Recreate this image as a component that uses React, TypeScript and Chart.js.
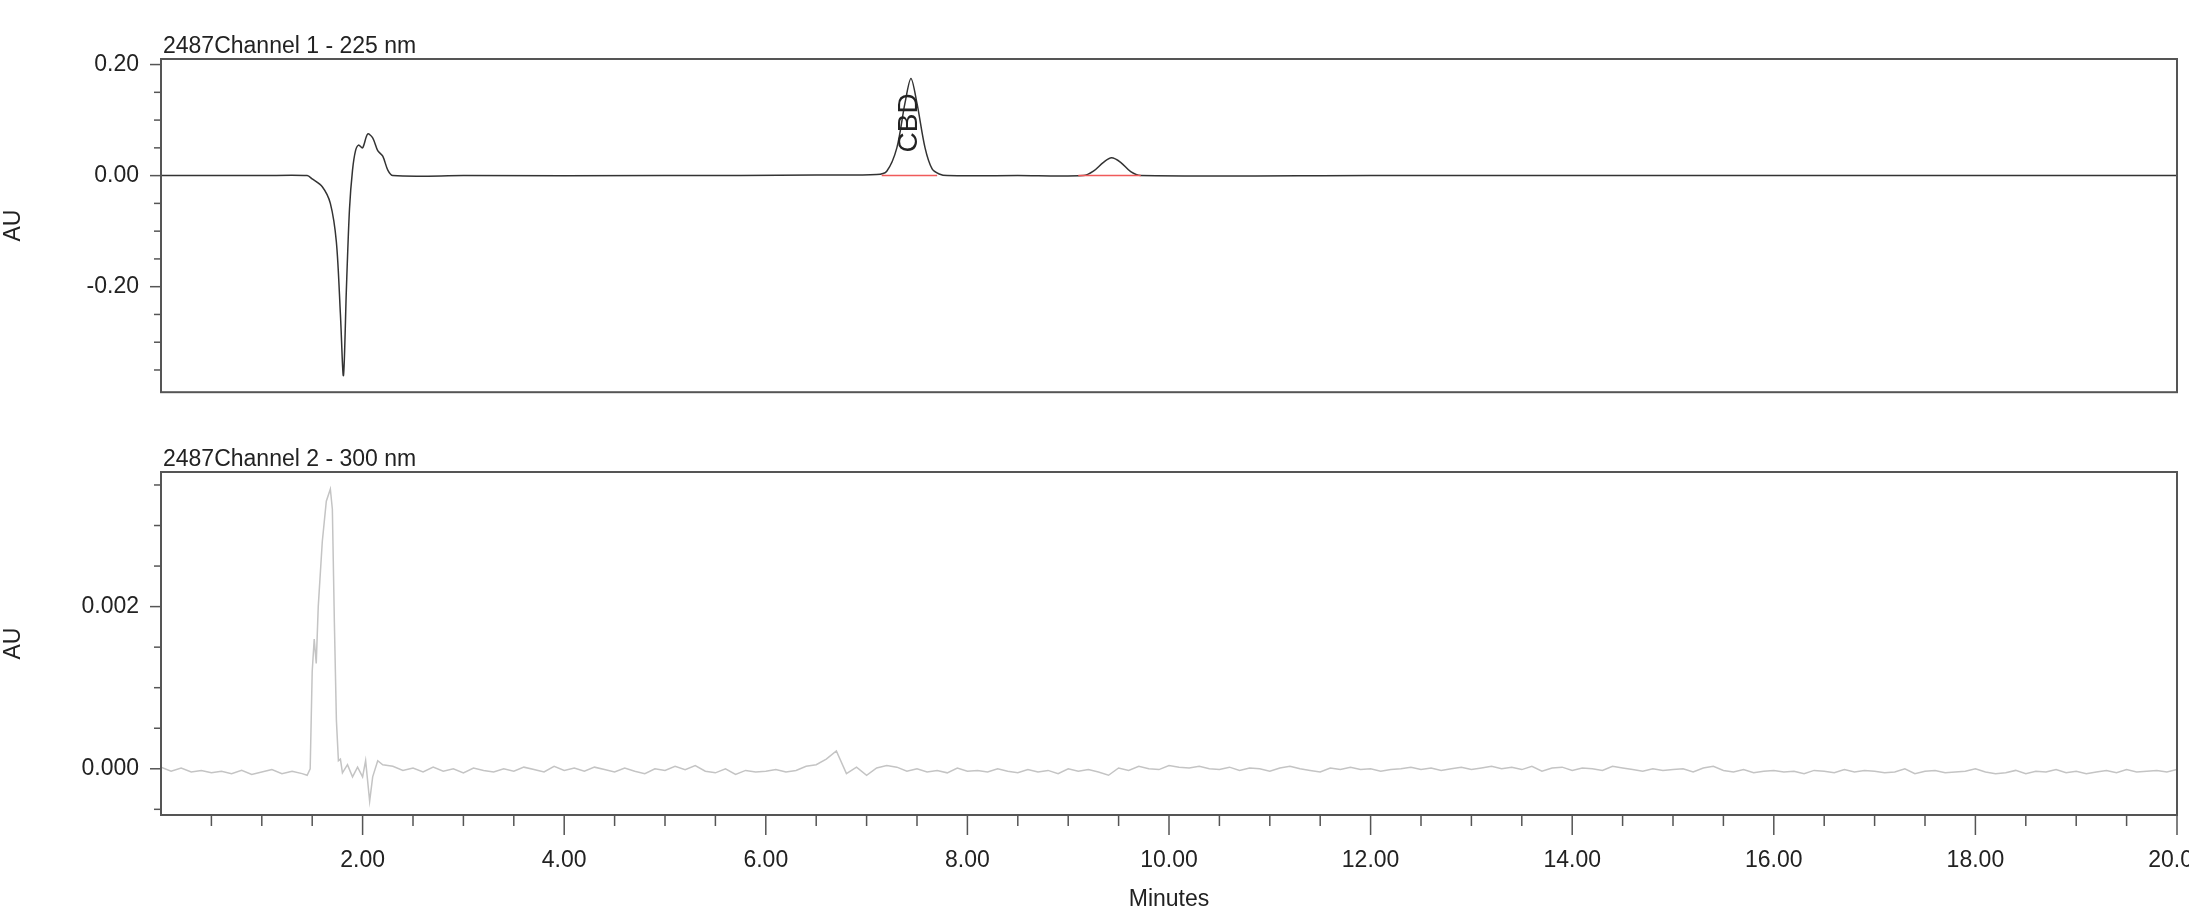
import React, { useEffect, useRef } from 'react';
import { Chart, registerables } from 'chart.js';

Chart.register(...registerables);

// Channel 1 (225 nm) trace
const ch1Times = [0, 0.5, 1.0, 1.45, 1.5, 1.6, 1.68, 1.74, 1.78, 1.81, 1.84, 1.87, 1.9, 1.93, 1.96, 2.0, 2.05, 2.1, 2.15, 2.2, 2.25, 2.3, 3.0, 5.0, 6.5, 7.1, 7.2, 7.3, 7.38, 7.44, 7.5, 7.58, 7.65, 7.72, 7.8, 8.5, 9.15, 9.25, 9.35, 9.43, 9.52, 9.62, 9.72, 12, 16, 20];
const ch1Values = [0, 0, 0, 0, -0.006, -0.02, -0.05, -0.12, -0.25, -0.36, -0.2, -0.06, 0.01, 0.045, 0.055, 0.05, 0.075, 0.068, 0.045, 0.035, 0.01, 0, 0, 0, 0.001, 0.002, 0.008, 0.05, 0.13, 0.175, 0.13, 0.05, 0.012, 0.003, 0, 0, 0, 0.008, 0.024, 0.032, 0.024, 0.007, 0, 0, 0, 0];
const ch1Baselines = [[7.15, 7.7], [9.1, 9.72]];
const peakName = 'CBD';
const peakTime = 7.42;

// Channel 2 (300 nm) trace, baseline noise in units of 1e-5 AU at 0.1 min steps
const ch2NoiseHeadE5 = [2, -3, 1, -4, -2, -5, -3, -6, -2, -7, -4, -1, -6, -3];
const ch2PeakTimes = [1.4, 1.45, 1.48, 1.5, 1.52, 1.54, 1.56, 1.6, 1.64, 1.68, 1.7, 1.72, 1.74, 1.76, 1.78, 1.8, 1.85, 1.9, 1.95, 2.0, 2.03, 2.07, 2.1, 2.15, 2.2];
const ch2PeakValues = [-0.00006, -0.00008, 0.0, 0.0012, 0.0016, 0.0013, 0.002, 0.0028, 0.0033, 0.00345, 0.0032, 0.0018, 0.0006, 0.0001, 0.00012, -0.00005, 0.00005, -0.0001, 0.00002, -0.0001, 0.0001, -0.0004, -0.0001, 0.0001, 0.00005];
const ch2NoiseTailE5 = [
  3, -2, 1, -4, 2, -3, 0, -5, 1, -2,
  -4, 0, -3, 2, -1, -4, 3, -2, 1, -3,
  2, -1, -4, 1, -3, -6, 0, -2, 3, -1,
  4, -3, -5, 0, -7, -2, -4, -3, -1, -4,
  -2, 3, 5, 12, 22, -6, 2, -8, 1, 4,
  2, -3, 0, -4, -2, -5, 1, -3, -2, -4,
  0, -3, -5, -1, -4, -2, -6, 0, -3, -1,
  -4, -8, 1, -2, 3, 0, -1, 4, 2, 1,
  3, 0, -1, 2, -2, 1, 0, -3, 1, 3,
  0, -2, -4, 1, -1, 2, -1, 0, -3, -1,
  0, 2, -1, 1, -2, 0, 2, -1, 1, 3,
  0, 2, -1, 3, -3, 1, 2, -2, 1, 0,
  -2, 3, 1, -1, -3, 0, -2, -1, 0, -4,
  1, 3, -2, -4, -1, -5, -3, -2, -4, -3,
  -6, -2, -3, -5, -1, -4, -2, -3, -5, -4,
  0, -6, -3, -2, -5, -4, -3, 0, -4, -6,
  -5, -2, -6, -3, -4, -1, -5, -3, -6, -4,
  -2, -5, -1, -4, -3, -2, -4, -1,
];

const xMajorTicks = [2, 4, 6, 8, 10, 12, 14, 16, 18, 20];
const ch1YTicks = [-0.2, 0, 0.2];
const ch2YTicks = [0, 0.002];

const FONT = '"Liberation Sans", Arial, sans-serif';
const TEXT = '#222';
const SIZE = 23;

function ch2Points() {
  const pts: { x: number; y: number }[] = [];
  ch2NoiseHeadE5.forEach((v, i) => pts.push({ x: i * 0.1, y: v * 1e-5 }));
  ch2PeakTimes.forEach((t, i) => pts.push({ x: t, y: ch2PeakValues[i] }));
  ch2NoiseTailE5.forEach((v, i) => pts.push({ x: 2.3 + i * 0.1, y: v * 1e-5 }));
  return pts;
}

function framePlugin(title: string, yMinorStep: number, drawX: boolean, label?: boolean) {
  return {
    id: 'frame',
    afterDraw(chart: any) {
      const { ctx, chartArea: a } = chart;
      const ys = chart.scales.y;
      const xs = chart.scales.x;
      ctx.save();
      ctx.strokeStyle = '#555';
      ctx.lineWidth = 2;
      ctx.strokeRect(a.left, a.top, a.right - a.left, a.bottom - a.top);
      ctx.lineWidth = 1.5;
      const start = Math.ceil(ys.min / yMinorStep);
      for (let k = start; k * yMinorStep <= ys.max; k++) {
        const v = k * yMinorStep;
        const py = ys.getPixelForValue(v);
        const major = ch1YTicks.concat(ch2YTicks).some(t => Math.abs(t - v) < yMinorStep / 10);
        ctx.beginPath();
        ctx.moveTo(a.left, py);
        ctx.lineTo(a.left - (major ? 11 : 7), py);
        ctx.stroke();
      }
      if (drawX) {
        for (let k = 1; k <= 40; k++) {
          const v = k * 0.5;
          const px = xs.getPixelForValue(v);
          const major = k % 4 === 0;
          ctx.beginPath();
          ctx.moveTo(px, a.bottom);
          ctx.lineTo(px, a.bottom + (major ? 20 : 11));
          ctx.stroke();
        }
      }
      ctx.fillStyle = TEXT;
      ctx.font = `${SIZE}px ${FONT}`;
      ctx.textBaseline = 'bottom';
      ctx.textAlign = 'left';
      ctx.fillText(title, a.left + 2, a.top - 1);
      if (label) {
        ctx.translate(xs.getPixelForValue(peakTime), ys.getPixelForValue(0.095));
        ctx.rotate(-Math.PI / 2);
        ctx.font = `28px ${FONT}`;
        ctx.textAlign = 'center';
        ctx.textBaseline = 'middle';
        ctx.fillText(peakName, 0, 0);
      }
      ctx.restore();
    },
  };
}

function yScale(min: number, max: number, ticks: number[], digits: number) {
  return {
    type: 'linear' as const,
    min,
    max,
    afterBuildTicks: (s: any) => { s.ticks = ticks.map(v => ({ value: v })); },
    afterFit: (s: any) => { s.width = 161; },
    grid: { display: false },
    border: { display: false },
    ticks: { color: TEXT, font: { family: FONT, size: SIZE }, padding: 14, callback: (v: any) => Number(v).toFixed(digits) },
    title: { display: true, text: 'AU', color: TEXT, font: { family: FONT, size: SIZE }, padding: { top: 0, bottom: 14 } },
  };
}

export default function App() {
  const topRef = useRef<HTMLCanvasElement>(null);
  const botRef = useRef<HTMLCanvasElement>(null);

  useEffect(() => {
    document.body.style.margin = '0';
    if (!topRef.current || !botRef.current) return;

    const top = new Chart(topRef.current, {
      type: 'line',
      data: {
        datasets: [
          ...ch1Baselines.map(b => ({
            data: b.map(x => ({ x, y: 0 })),
            borderColor: '#f05a5a',
            borderWidth: 1.5,
            pointRadius: 0,
          })),
          {
            data: ch1Times.map((x, i) => ({ x, y: ch1Values[i] })),
            borderColor: '#333',
            borderWidth: 1.5,
            pointRadius: 0,
            tension: 0.3,
          },
        ],
      },
      options: {
        animation: false,
        responsive: false,
        layout: { padding: { top: 59, right: 12, bottom: 14, left: 0 } },
        plugins: { legend: { display: false }, tooltip: { enabled: false } },
        scales: {
          x: { type: 'linear', min: 0, max: 20, display: false },
          y: yScale(-0.39, 0.21, ch1YTicks, 2),
        },
      },
      plugins: [framePlugin('2487Channel 1 - 225 nm', 0.05, false, true)],
    });

    const bot = new Chart(botRef.current, {
      type: 'line',
      data: {
        datasets: [
          {
            data: ch2Points(),
            borderColor: '#c4c4c4',
            borderWidth: 1.5,
            pointRadius: 0,
          },
        ],
      },
      options: {
        animation: false,
        responsive: false,
        layout: { padding: { top: 42, right: 12, bottom: 0, left: 0 } },
        plugins: { legend: { display: false }, tooltip: { enabled: false } },
        scales: {
          x: {
            type: 'linear',
            min: 0,
            max: 20,
            afterBuildTicks: (s: any) => { s.ticks = xMajorTicks.map(v => ({ value: v })); },
            afterFit: (s: any) => { s.height = 98; s.paddingRight = 0; },
            grid: { display: false },
            border: { display: false },
            ticks: { color: TEXT, font: { family: FONT, size: SIZE }, padding: 24, maxRotation: 0, callback: (v: any) => Number(v).toFixed(2) },
            title: { display: true, text: 'Minutes', color: TEXT, font: { family: FONT, size: SIZE }, padding: { top: 4, bottom: 0 } },
          },
          y: yScale(-0.00057, 0.00366, ch2YTicks, 3),
        },
      },
      plugins: [framePlugin('2487Channel 2 - 300 nm', 0.0005, true)],
    });

    return () => {
      top.destroy();
      bot.destroy();
    };
  }, []);

  return (
    <div style={{ position: 'relative', width: 2189, height: 913, background: '#fff', overflow: 'hidden' }}>
      <canvas ref={topRef} width={2189} height={420} style={{ position: 'absolute', left: 0, top: 0 }} />
      <canvas ref={botRef} width={2189} height={483} style={{ position: 'absolute', left: 0, top: 430 }} />
    </div>
  );
}
